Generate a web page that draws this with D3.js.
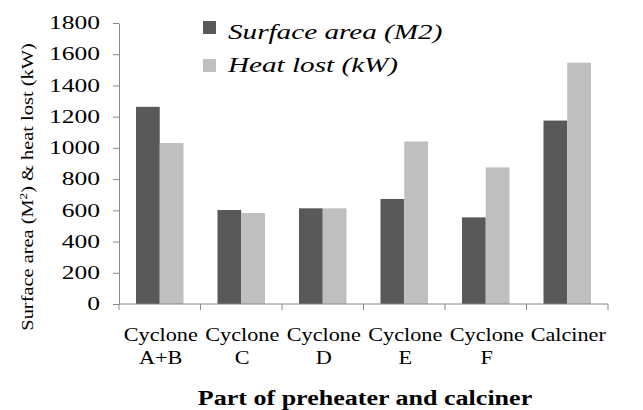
<!DOCTYPE html>
<html>
<head>
<meta charset="utf-8">
<script src="https://cdn.jsdelivr.net/npm/d3@7"></script>
<style>
  body { margin: 0; background: #fff; }
  text { font-family: "Liberation Serif", "Times New Roman", serif; fill: #000; }
</style>
</head>
<body>
<script>
var categories = [["Cyclone", "A+B"], ["Cyclone", "C"], ["Cyclone", "D"], ["Cyclone", "E"], ["Cyclone", "F"], ["Calciner"]];
var surfaceArea = [1263, 602, 613, 673, 555, 1175];
var heatLost = [1031, 583, 613, 1041, 875, 1546];
var seriesNames = ["Surface area (M2)", "Heat lost (kW)"];
var colors = ["#595959", "#bfbfbf"];
var yTicks = [0, 200, 400, 600, 800, 1000, 1200, 1400, 1600, 1800];

var margin = { top: 23, right: 35, bottom: 106, left: 119 },
  width = 643 - margin.left - margin.right,
  height = 410 - margin.top - margin.bottom;

var svg = d3.select("body").append("svg")
  .attr("width", 643)
  .attr("height", 410);

var g = svg.append("g")
  .attr("transform", "translate(" + margin.left + "," + margin.top + ")");

// scales
var x = d3.scaleBand()
  .domain(d3.range(categories.length))
  .range([0, width]);
var x1 = d3.scaleBand()
  .domain([0, 1])
  .range([17, x.bandwidth() - 17]);
var y = d3.scaleLinear()
  .domain([0, 1800])
  .range([height, 0]);

// bars
var data = categories.map(function (c, i) {
  return { i: i, values: [surfaceArea[i], heatLost[i]] };
});
var groups = g.selectAll(".grp")
  .data(data)
  .enter().append("g")
  .attr("class", "grp")
  .attr("transform", function (d) { return "translate(" + x(d.i) + ",0)"; });
groups.selectAll("rect")
  .data(function (d) { return d.values.map(function (v, k) { return { k: k, v: v }; }); })
  .enter().append("rect")
  .attr("x", function (d) { return x1(d.k); })
  .attr("width", x1.bandwidth())
  .attr("y", function (d) { return y(d.v); })
  .attr("height", function (d) { return height - y(d.v); })
  .attr("fill", function (d) { return colors[d.k]; });

// y axis
var yAxis = g.append("g")
  .call(d3.axisLeft(y).tickValues(yTicks).tickFormat(d3.format("d")).tickSize(6).tickSizeOuter(0));
yAxis.select(".domain").attr("stroke", "#888");
yAxis.selectAll(".tick line").attr("stroke", "#888");
yAxis.selectAll(".tick text")
  .attr("x", 0)
  .attr("transform", "translate(-19,0) scale(1.42,1)")
  .style("font-size", "18px")
  .attr("fill", "#000");

// x axis with boundary ticks
var xAxisG = g.append("g")
  .attr("transform", "translate(0," + height + ")");
xAxisG.append("line")
  .attr("x1", 0).attr("x2", width)
  .attr("stroke", "#888");
xAxisG.selectAll(".btick")
  .data(d3.range(categories.length + 1))
  .enter().append("line")
  .attr("x1", function (d) { return d * x.step(); })
  .attr("x2", function (d) { return d * x.step(); })
  .attr("y1", 0).attr("y2", 6)
  .attr("stroke", "#888");
var labels = xAxisG.selectAll(".xl")
  .data(categories)
  .enter().append("text")
  .attr("class", "xl")
  .attr("text-anchor", "middle")
  .style("font-size", "19px")
  .attr("transform", function (d, i) { return "translate(" + (x(i) + x.bandwidth() / 2 + 1) + ",0) scale(1.17,1)"; });
labels.selectAll("tspan")
  .data(function (d) { return d; })
  .enter().append("tspan")
  .attr("x", 0)
  .attr("y", function (d, j) { return 37 + j * 23; })
  .text(function (d) { return d; });

// axis titles
svg.append("text")
  .attr("text-anchor", "middle")
  .attr("transform", "translate(33,187) rotate(-90) scale(1.2,1)")
  .style("font-size", "17px")
  .html("Surface area (M<tspan dy='-6' font-size='11px'>2</tspan><tspan dy='6'>) &amp; heat lost (kW)</tspan>");

svg.append("text")
  .attr("text-anchor", "middle")
  .attr("transform", "translate(365,405) scale(1.24,1)")
  .style("font-size", "21px")
  .style("font-weight", "bold")
  .text("Part of preheater and calciner");

// legend
var legend = svg.append("g").attr("transform", "translate(203,0)");
seriesNames.forEach(function (name, k) {
  legend.append("rect")
    .attr("y", 21 + k * 38)
    .attr("width", 13).attr("height", 13)
    .attr("fill", colors[k]);
  legend.append("text")
    .attr("transform", "translate(25," + (39 + k * 33) + ") scale(1.39,1)")
    .style("font-size", "21px")
    .style("font-style", "italic")
    .text(name);
});
</script>
</body>
</html>
